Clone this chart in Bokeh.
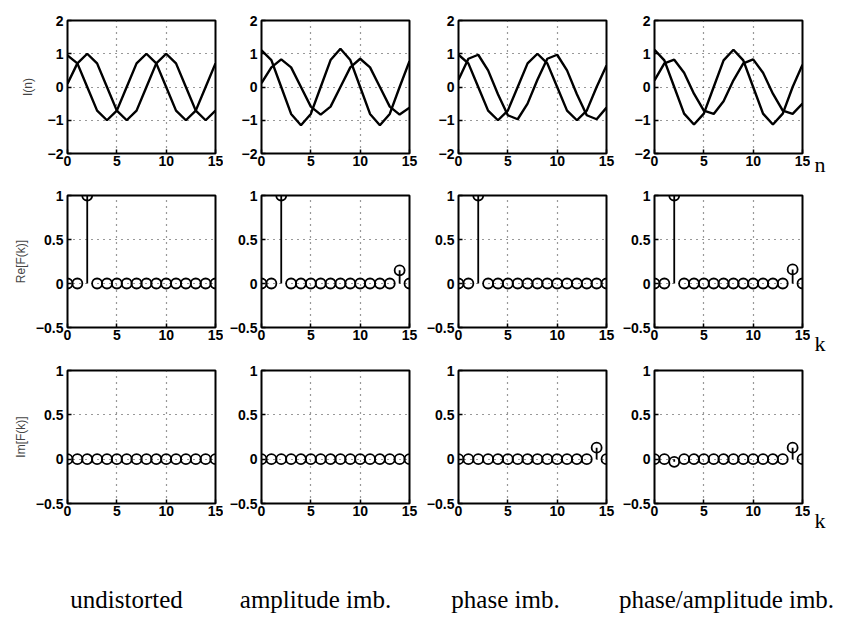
from bokeh.plotting import figure
from bokeh.layouts import column, row
from bokeh.models import FixedTicker, Label, Range1d
from bokeh.embed import file_html
from bokeh.resources import INLINE

# ---------------- data ----------------
n = list(range(16))
k = list(range(16))

# time-domain I/Q samples
I_undist = [0.95, 0.71, 0.0, -0.71, -1.0, -0.71, 0.0, 0.71, 1.0, 0.71, 0.0, -0.71, -1.0, -0.71, 0.0, 0.71]
Q_undist = [0.10, 0.71, 1.0, 0.71, 0.0, -0.71, -1.0, -0.71, 0.0, 0.71, 1.0, 0.71, 0.0, -0.71, -1.0, -0.71]

I_amp = [1.10, 0.81, 0.0, -0.81, -1.15, -0.81, 0.0, 0.81, 1.15, 0.81, 0.0, -0.81, -1.15, -0.81, 0.0, 0.78]
Q_amp = [0.12, 0.59, 0.83, 0.59, 0.0, -0.59, -0.83, -0.59, 0.0, 0.59, 0.85, 0.59, 0.0, -0.59, -0.83, -0.62]

I_ph = [0.97, 0.71, 0.0, -0.71, -1.0, -0.71, 0.0, 0.71, 1.0, 0.71, 0.0, -0.71, -1.0, -0.71, 0.0, 0.65]
Q_ph = [0.22, 0.85, 0.97, 0.50, -0.22, -0.85, -0.97, -0.50, 0.22, 0.85, 0.97, 0.50, -0.22, -0.85, -0.97, -0.62]

I_pa = [1.12, 0.80, 0.0, -0.80, -1.13, -0.80, 0.0, 0.80, 1.12, 0.80, 0.0, -0.80, -1.13, -0.80, 0.0, 0.67]
Q_pa = [0.20, 0.71, 0.82, 0.43, -0.20, -0.71, -0.81, -0.43, 0.20, 0.71, 0.83, 0.43, -0.20, -0.71, -0.81, -0.50]

# DFT real parts
Re_undist = [0, 0, 1.0, 0, 0, 0, 0, 0, 0, 0, 0, 0, 0, 0, 0.0, 0]
Re_amp    = [0, 0, 1.0, 0, 0, 0, 0, 0, 0, 0, 0, 0, 0, 0, 0.15, 0]
Re_ph     = [0, 0, 1.0, 0, 0, 0, 0, 0, 0, 0, 0, 0, 0, 0, 0.0, 0]
Re_pa     = [0, 0, 1.0, 0, 0, 0, 0, 0, 0, 0, 0, 0, 0, 0, 0.16, 0]

# DFT imaginary parts
Im_undist = [0, 0, 0.0, 0, 0, 0, 0, 0, 0, 0, 0, 0, 0, 0, 0.0, 0]
Im_amp    = [0, 0, 0.0, 0, 0, 0, 0, 0, 0, 0, 0, 0, 0, 0, 0.0, 0]
Im_ph     = [0, 0, 0.0, 0, 0, 0, 0, 0, 0, 0, 0, 0, 0, 0, 0.13, 0]
Im_pa     = [0, 0, -0.03, 0, 0, 0, 0, 0, 0, 0, 0, 0, 0, 0, 0.13, 0]

captions = ["undistorted", "amplitude imb.", "phase imb.", "phase/amplitude imb."]
row_labels = ["I(n)", "Re[F(k)]", "Im[F(k)]"]
axis_letters = ["n", "k", "k"]
x_ticks = [0, 5, 10, 15]
y_ticks_time = [-2, -1, 0, 1, 2]
y_ticks_freq = [-0.5, 0, 0.5, 1]
y_labels_time = {-2: "\u22122", -1: "\u22121", 0: "0", 1: "1", 2: "2"}
y_labels_freq = {-0.5: "\u22120.5", 0: "0", 0.5: "0.5", 1: "1"}

time_I = [I_undist, I_amp, I_ph, I_pa]
time_Q = [Q_undist, Q_amp, Q_ph, Q_pa]
re_all = [Re_undist, Re_amp, Re_ph, Re_pa]
im_all = [Im_undist, Im_amp, Im_ph, Im_pa]

# ---------------- layout ----------------
FRAME_W = 148
LEFTS = [67, 38, 38, 38]
RIGHTS = [8, 11, 10, 8]
ROW_TOP = [20, 12, 13]
ROW_FRAME_H = [133, 132, 133]
BOTTOM = 30
SIDE_W = 42
ROW_H = [ROW_TOP[i] + ROW_FRAME_H[i] + BOTTOM for i in range(3)]
GRID_H = sum(ROW_H)
LETTER_PAGE_Y = [164, 343, 520]   # vertical centres of the axis letters
SANS = "Liberation Sans"
SERIF = "Liberation Serif"


def base_fig(col, r, yr, yticks, ylabels, ygrid):
    p = figure(width=LEFTS[col] + FRAME_W + RIGHTS[col], height=ROW_H[r],
               x_range=Range1d(0, 15), y_range=Range1d(*yr),
               output_backend="svg", toolbar_location=None,
               min_border_left=LEFTS[col], min_border_right=RIGHTS[col],
               min_border_top=ROW_TOP[r], min_border_bottom=BOTTOM)
    p.background_fill_color = "white"
    p.border_fill_color = "white"
    p.outline_line_color = "black"
    p.outline_line_width = 2
    for ax in (p.xaxis[0], p.yaxis[0]):
        ax.axis_line_color = None
        ax.major_tick_in = 4
        ax.major_tick_out = 0
        ax.major_tick_line_color = "black"
        ax.major_tick_line_width = 1.5
        ax.minor_tick_line_color = None
        ax.major_label_text_font = SANS
        ax.major_label_text_font_style = "bold"
        ax.major_label_text_font_size = "14px"
        ax.major_label_text_color = "black"
    p.xaxis.ticker = FixedTicker(ticks=x_ticks)
    p.xaxis.major_label_standoff = 2
    p.yaxis.ticker = FixedTicker(ticks=yticks)
    p.yaxis.major_label_overrides = ylabels
    p.yaxis.major_label_standoff = 4
    p.xgrid.ticker = FixedTicker(ticks=[5, 10])
    p.ygrid.ticker = FixedTicker(ticks=ygrid)
    for g in (p.xgrid[0], p.ygrid[0]):
        g.grid_line_color = "#333333"
        g.grid_line_dash = "1 5"
        g.grid_line_width = 1.2
    if col == 0:
        p.yaxis.axis_label = row_labels[r]
        p.yaxis.axis_label_text_font = SANS
        p.yaxis.axis_label_text_font_style = "normal"
        p.yaxis.axis_label_text_font_size = "12px"
        p.yaxis.axis_label_standoff = 10 if r == 0 else 5
    return p


def blank_fig(w, h):
    s = figure(width=w, height=h, x_range=Range1d(0, w), y_range=Range1d(0, h),
               x_axis_location=None, y_axis_location=None,
               output_backend="svg", toolbar_location=None, min_border=0)
    s.grid.visible = False
    s.outline_line_color = None
    s.background_fill_color = "white"
    s.border_fill_color = "white"
    return s


grid_rows = []
# row 1: time signals
figs = []
for c in range(4):
    p = base_fig(c, 0, (-2, 2), y_ticks_time, y_labels_time, [-1, 0, 1])
    p.line(n, time_I[c], line_color="black", line_width=2.4)
    p.line(n, time_Q[c], line_color="black", line_width=2.4)
    figs.append(p)
grid_rows.append(row(*figs, spacing=0))

# rows 2 & 3: DFT stems
for r, data in ((1, re_all), (2, im_all)):
    figs = []
    for c in range(4):
        p = base_fig(c, r, (-0.5, 1), y_ticks_freq, y_labels_freq, [0, 0.5])
        p.segment(x0=k, y0=[0] * len(k), x1=k, y1=data[c], line_color="black", line_width=1.8)
        p.scatter(k, data[c], marker="circle", size=10, fill_color=None,
                  line_color="black", line_width=1.8)
        figs.append(p)
    grid_rows.append(row(*figs, spacing=0))

# tall strip on the right with the axis letters n / k / k
side = blank_fig(SIDE_W, GRID_H)
for ly, letter in zip(LETTER_PAGE_Y, axis_letters):
    side.add_layout(Label(x=4, y=GRID_H - ly, text=letter, text_align="left",
                          text_baseline="middle", text_font=SERIF, text_font_size="22px",
                          text_color="black"))

top_block = row(column(*grid_rows, spacing=0), side, spacing=0)

# caption strip
TOTAL_W = sum(LEFTS) + 4 * FRAME_W + sum(RIGHTS) + SIDE_W
CAP_H = 615 - GRID_H
cap = blank_fig(TOTAL_W, CAP_H)
cap_x = [126, 315, 505, 726]
for cx, txt in zip(cap_x, captions):
    cap.add_layout(Label(x=cx, y=16, text=txt, text_align="center", text_baseline="alphabetic",
                         text_font=SERIF, text_font_size="25px", text_color="black"))

layout = column(top_block, cap, spacing=0)
open("out.html", "w").write(file_html(layout, INLINE))
